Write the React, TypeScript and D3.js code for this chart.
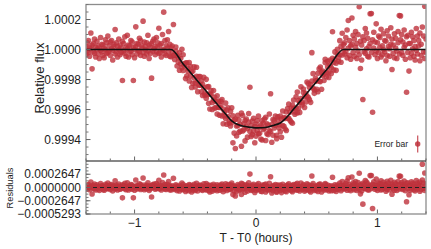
import React from "react";
import * as d3 from "d3";

// observations: [time (0.01 h), flux ppm, flux ppm] – two exposures per time bin
const obs: number[][] = [
  [-140, 20, -35], [-139, -10, 45], [-138, 60, -20], [-137, -45, 15], [-136, 5, 110],
  [-135, -129, 30], [-134, 40, -15], [-133, -25, 70], [-132, 15, -50], [-131, 55, 0],
  [-130, -30, 25], [-129, 10, -60], [-128, 80, -5], [-127, -15, 35], [-126, 30, -40],
  [-125, -55, 10], [-124, 0, 65], [-123, 45, -25], [-122, -20, 90], [-121, 25, -10],
  [-120, -40, 50], [-119, 60, 5], [-118, -5, -70], [-117, 35, 20], [-116, 133, -30],
  [-115, -15, 45], [-114, 20, -50], [-113, 70, 0], [-112, -35, 30], [-111, 10, -20],
  [-110, -207, 55], [-109, 40, -10], [-108, -25, 85], [-107, 15, -45], [-106, 95, 5],
  [-105, -50, 30], [-104, 25, -15], [-103, -10, 60], [-102, 50, -35], [-101, -207, 15],
  [-100, 0, -55], [-99, 151, 20], [-98, -30, 40], [-97, 35, -5], [-96, -15, 75],
  [-95, 60, -40], [-94, 10, 25], [-93, 189, -20], [-92, -45, 50], [-91, 20, 0],
  [-90, 45, -30], [-89, -10, 95], [-88, 30, -60], [-87, -25, 15], [-86, -191, 40],
  [-85, 55, -10], [-84, 5, 70], [-83, -35, 20], [-82, 80, -15], [-81, 15, 45],
  [-80, 142, -25], [-79, -20, 30], [-78, 40, -50], [-77, 0, 100], [-76, 249, -5],
  [-75, -30, 60], [-74, 25, -40], [-73, 65, 10], [-72, -15, 120], [-71, 35, -45],
  [-70, 12, -48], [-69, -15, 23], [-68, 167, -39], [-67, -67, -38], [-66, -11, 16],
  [-65, -110, -40], [-64, -54, -84], [-63, -22, -138], [-62, -95, -58], [-61, 2, -121],
  [-60, -140, -35], [-59, -96, -108], [-58, -194, -91], [-57, -89, -177], [-56, -145, -127],
  [-55, -87, -210], [-54, -178, -112], [-53, -149, -253], [-52, -225, -143], [-51, -116, -189],
  [-50, -223, -250], [-49, -179, -118], [-48, -281, -210], [-47, -180, -236], [-46, -238, -181],
  [-45, -209, -281], [-44, -306, -232], [-43, -254, -185], [-42, -304, -290], [-41, -199, -325],
  [-40, -301, -249], [-39, -247, -358], [-38, -396, -297], [-37, -298, -273], [-36, -353, -400],
  [-35, -273, -337], [-34, -390, -318], [-33, -346, -387], [-32, -430, -308], [-31, -344, -385],
  [-30, -386, -438], [-29, -345, -371], [-28, -443, -334], [-27, -396, -495], [-26, -442, -417],
  [-25, -357, -459], [-24, -498, -403], [-23, -446, -389], [-22, -491, -476], [-21, -412, -509],
  [-20, -487, -388], [-19, -442, -622], [-18, -557, -470], [-17, -464, -660], [-16, -510, -576],
  [-15, -439, -506], [-14, -551, -470], [-13, -498, -544], [-12, -424, -645], [-11, -543, -440],
  [-10, -493, -534], [-9, -609, -473], [-8, -463, -512], [-7, -526, -584], [-6, -483, -426],
  [-5, -251, -547], [-4, -580, -506], [-3, -476, -567], [-2, -544, -458], [-1, -511, -621],
  [0, -577, -496], [1, -540, -474], [2, -444, -562], [3, -558, -516], [4, -505, -596],
  [5, -603, -474], [6, -491, -533], [7, -525, -463], [8, -451, -606], [9, -561, -495],
  [10, -503, -567], [11, -540, -430], [12, -295, -546], [13, -618, -500], [14, -466, -571],
  [15, -523, -474], [16, -443, -505], [17, -571, -594], [18, -471, -449], [19, -501, -523],
  [20, -443, -548], [21, -585, -463], [22, -507, -410], [23, -454, -511], [24, -530, -459],
  [25, -416, -540], [26, -457, -394], [27, -364, -459], [28, -472, -418], [29, -390, -483],
  [30, -491, -370], [31, -392, -336], [32, -416, -431], [33, -315, -389], [34, -423, -283],
  [35, -340, -391], [36, -355, -419], [37, -248, -327], [38, -369, -355], [39, -287, -263],
  [40, -386, -313], [41, -291, -349], [42, -312, -217], [43, -226, -319], [44, -334, -252],
  [45, -234, -352], [46, -21, -210], [47, -161, -257], [48, -269, -292], [49, -211, -192],
  [50, -265, -207], [51, -159, -281], [52, -212, -129], [53, -117, -214], [54, -265, -151],
  [55, -144, -173], [56, -163, -207], [57, -87, -65], [58, -181, -153], [59, -116, -79],
  [60, -186, -151], [61, -70, -105], [62, -122, -160], [63, 118, -59], [64, -136, -87],
  [65, -65, -16], [66, -91, -139], [67, 1, -32], [68, -53, -78], [69, 59, -35],
  [70, -85, 22], [71, 108, -37], [72, -2, 33], [73, 45, -30], [74, -15, 80],
  [75, 130, -55], [76, 193, 10], [77, -40, 60], [78, 25, -65], [79, 210, 35],
  [80, -20, 95], [81, 70, -45], [82, 15, 120], [83, -60, 40], [84, 100, -10],
  [85, 285, -35], [86, -127, 55], [87, 30, -70], [88, -333, 85], [89, 60, -15],
  [90, -25, 140], [91, 110, 5], [92, -45, 75], [93, 20, -50], [94, 238, 40],
  [95, 240, -20], [96, -418, 65], [97, 10, 115], [98, -35, 50], [99, 171, -10],
  [100, 45, -60], [101, -20, 90], [102, 80, 15], [103, -50, 135], [104, 25, -35],
  [105, 105, 0], [106, -15, 60], [107, 55, -75], [108, -40, 125], [109, 90, 20],
  [110, 5, -45], [111, 145, 35], [112, -133, 70], [113, 30, -25], [114, -55, 105],
  [115, 75, 10], [116, -10, -60], [117, 120, 45], [118, 227, -30], [119, 224, 65],
  [120, -20, 100], [121, 50, -40], [122, 15, 130], [123, -65, 30], [124, -285, 85],
  [125, 95, -20], [126, -144, 40], [127, 40, -55], [128, -25, 115], [129, 85, 5],
  [130, -45, 60], [131, 20, -70], [132, 140, -5], [133, -30, 90], [134, 60, 25],
  [135, -75, 110], [136, 35, -40], [137, 463, 150], [138, 90, -15], [139, 289, -60],
  [140, -20, 70],
];

// transit model (hours, ppm)
const modelT = [-1.4, -0.7, -0.6, -0.5, -0.4, -0.3, -0.25, -0.2, -0.15, -0.1, -0.05, 0, 0.05, 0.1, 0.15, 0.2, 0.25, 0.3, 0.4, 0.5, 0.6, 0.72, 1.4];
const modelPpm = [0, 0, -96, -192, -287, -383, -430, -475, -500, -512, -519, -522, -521, -516, -504, -490, -455, -407, -310, -213, -116, 0, 0];

const fluxTicks = [0.9994, 0.9996, 0.9998, 1.0, 1.0002];
const resTicks = [-0.0005293, -0.0002647, 0, 0.0002647];
const timeTicks = [-1, 0, 1];
const errorBar = 0.000057;

const W = 431, H = 249;
const L = 86, R = 426, T = 4.5, MID = 161, B = 214;
const FONT = "'Liberation Sans', Arial, sans-serif";
const DOT = "rgb(190,50,60)";

export default function App() {
  const x = d3.scaleLinear().domain([-1.4, 1.4]).range([L, R]);
  const y = d3.scaleLinear().domain([0.999257, 1.0003]).range([MID, T]);
  const yr = d3.scaleLinear().domain([-0.0005293, 0.0005293]).range([B, MID]);

  const model = d3.scaleLinear().domain(modelT).range(modelPpm);
  const pts = obs.flatMap(([t, a, b]) => [a, b].map((p) => ({ t: t / 100, f: 1 + p * 1e-6 })));
  const resid = pts.map((d) => ({ t: d.t, r: d.f - (1 + model(d.t) * 1e-6) }));

  const line = d3
    .line<number>()
    .x((_, i) => x(modelT[i]))
    .y((p) => y(1 + p * 1e-6))
    .curve(d3.curveMonotoneX);

  const fmt = (v: number, digits: number) => v.toFixed(digits).replace("-", "\u2212");
  const minorFlux = d3.range(0.99930, 1.00030001, 0.00005);
  const minorRes = d3.range(-8, 9).map((k) => (k * 0.0002647) / 4);
  const minorX = d3.range(-7, 8).map((k) => k * 0.2);

  return (
    <svg width={W} height={H} style={{ position: "absolute", left: 0, top: 0, fontFamily: FONT }}>
      <defs>
        <clipPath id="cMain"><rect x={L} y={T} width={R - L} height={MID - T} /></clipPath>
        <clipPath id="cRes"><rect x={L} y={MID} width={R - L} height={B - MID} /></clipPath>
      </defs>

      {/* main panel */}
      <g clipPath="url(#cMain)">
        {pts.map((d, i) => (
          <circle key={i} cx={x(d.t)} cy={y(d.f)} r={2.8} fill={DOT} fillOpacity={0.8} />
        ))}
        <path d={line(modelPpm) ?? ""} fill="none" stroke="#111" strokeWidth={1.6} />
      </g>

      {/* residual panel */}
      <g clipPath="url(#cRes)">
        {resid.map((d, i) => (
          <circle key={i} cx={x(d.t)} cy={yr(d.r)} r={2.8} fill={DOT} fillOpacity={0.8} />
        ))}
        <line x1={L} x2={R} y1={yr(0)} y2={yr(0)} stroke="#222" strokeWidth={1} strokeDasharray="4,3" />
      </g>

      {/* frames */}
      <rect x={L} y={T} width={R - L} height={B - T} fill="none" stroke="#8c8c8c" strokeWidth={1.3} />
      <line x1={L} x2={R} y1={MID} y2={MID} stroke="#111" strokeWidth={1.2} />

      {/* flux axis */}
      {minorFlux.map((v, i) => (
        <line key={i} x1={L} x2={L + 2.5} y1={y(v)} y2={y(v)} stroke="#777" />
      ))}
      {fluxTicks.map((v) => (
        <g key={v}>
          <line x1={L} x2={L + 4.5} y1={y(v)} y2={y(v)} stroke="#666" />
          <text x={L - 5} y={y(v)} dy="0.35em" textAnchor="end" fontSize={12} fill="#222">
            {v.toFixed(4)}
          </text>
        </g>
      ))}

      {/* residual axis */}
      {minorRes.map((v, i) => (
        <line key={i} x1={L} x2={L + 2.5} y1={yr(v)} y2={yr(v)} stroke="#777" />
      ))}
      {resTicks.map((v) => (
        <g key={v}>
          <line x1={L} x2={L + 4.5} y1={yr(v)} y2={yr(v)} stroke="#666" />
          <text x={L - 5} y={yr(v)} dy="0.35em" textAnchor="end" fontSize={12} fill="#222">
            {fmt(v, 7)}
          </text>
        </g>
      ))}

      {/* time axes (bottom of both panels) */}
      {[MID, B].map((base) =>
        minorX.map((v) => {
          const major = timeTicks.includes(Math.round(v * 10) / 10);
          return (
            <line key={base + "-" + v} x1={x(v)} x2={x(v)} y1={base - 0.5} y2={base - (major ? 4.5 : 2.5)} stroke="#666" />
          );
        })
      )}
      {timeTicks.map((v) => (
        <text key={v} x={x(v)} y={227} textAnchor="middle" fontSize={12} fill="#222">
          {fmt(v, 0)}
        </text>
      ))}

      {/* labels */}
      <text x={x(0)} y={241.5} textAnchor="middle" fontSize={12} fill="#222">T - T0 (hours)</text>
      <text transform={`translate(43.5,78) rotate(-90)`} textAnchor="middle" fontSize={13} fill="#222">Relative flux</text>
      <text transform={`translate(13.3,188) rotate(-90)`} textAnchor="middle" fontSize={9.3} fill="#222">Residuals</text>

      {/* error bar legend */}
      <text x={408} y={147} textAnchor="end" fontSize={8.5} fill="#222">Error bar</text>
      <g transform={`translate(0,${144 - y(0.9995)})`}>
        <line x1={417.7} x2={417.7} y1={y(0.9995 + errorBar)} y2={y(0.9995 - errorBar)} stroke={DOT} strokeOpacity={0.85} strokeWidth={1.2} />
        <circle cx={417.7} cy={y(0.9995)} r={2.7} fill={DOT} fillOpacity={0.85} />
      </g>
    </svg>
  );
}
